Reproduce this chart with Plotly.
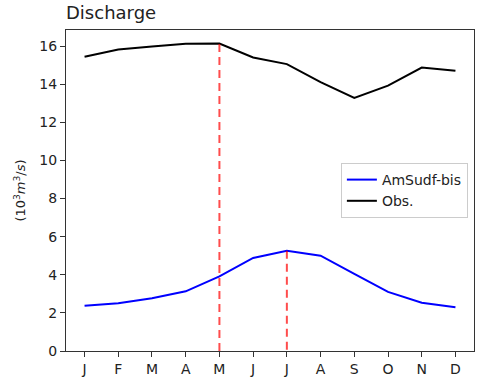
import plotly.graph_objects as go

months = ["J", "F", "M", "A", "M", "J", "J", "A", "S", "O", "N", "D"]
model = [2.37, 2.51, 2.77, 3.13, 3.91, 4.88, 5.26, 5.00, 4.05, 3.10, 2.53, 2.30]
obs = [15.44, 15.82, 15.98, 16.12, 16.13, 15.40, 15.05, 14.10, 13.28, 13.92, 14.87, 14.70]
yticks = [0, 2, 4, 6, 8, 10, 12, 14, 16]

x = list(range(len(months)))
obs_peak = obs.index(max(obs))
mod_peak = model.index(max(model))

fig = go.Figure()
fig.add_trace(go.Scatter(x=x, y=model, mode="lines", name="AmSudf-bis",
                         line=dict(color="blue", width=2)))
fig.add_trace(go.Scatter(x=x, y=obs, mode="lines", name="Obs.",
                         line=dict(color="black", width=2)))
fig.add_trace(go.Scatter(x=[obs_peak, obs_peak], y=[0, obs[obs_peak]], mode="lines",
                         showlegend=False, line=dict(color="rgba(255,0,0,0.7)", width=2, dash="8px,5px")))
fig.add_trace(go.Scatter(x=[mod_peak, mod_peak], y=[model[mod_peak], 0], mode="lines",
                         showlegend=False, line=dict(color="rgba(255,0,0,0.7)", width=2, dash="8px,5px")))

axis_common = dict(showline=True, linecolor="#333", linewidth=1, mirror=True,
                   ticks="outside", ticklen=5, tickcolor="#333", showgrid=False, zeroline=False,
                   tickfont=dict(size=14, color="#222"))
fig.update_xaxes(range=[-0.55, 11.55], tickmode="array", tickvals=x, ticktext=months, **axis_common)
fig.update_yaxes(range=[0, 16.84], tickmode="array", tickvals=yticks,
                 title=dict(text="(10<sup>3</sup><i>m</i><sup>3</sup>/<i>s</i>)", font=dict(size=13, color="#222"), standoff=10),
                 **axis_common)

fig.update_layout(
    width=481, height=383,
    margin=dict(l=66, r=6, t=30, b=30),
    plot_bgcolor="white", paper_bgcolor="white",
    font=dict(family="DejaVu Sans", color="#222"),
    title=dict(text="Discharge", x=66/481, xanchor="left", y=1 - 13/383, yanchor="middle",
               font=dict(size=18, color="#222")),
    legend=dict(x=0.985, y=0.5, xanchor="right", yanchor="middle",
                bgcolor="rgba(255,255,255,0.8)", bordercolor="#ccc", borderwidth=1,
                font=dict(size=14, color="#222")),
)

fig.write_html("out.html", config={"displayModeBar": False},
               post_script="document.body.style.margin='0';document.body.style.overflow='hidden';")
